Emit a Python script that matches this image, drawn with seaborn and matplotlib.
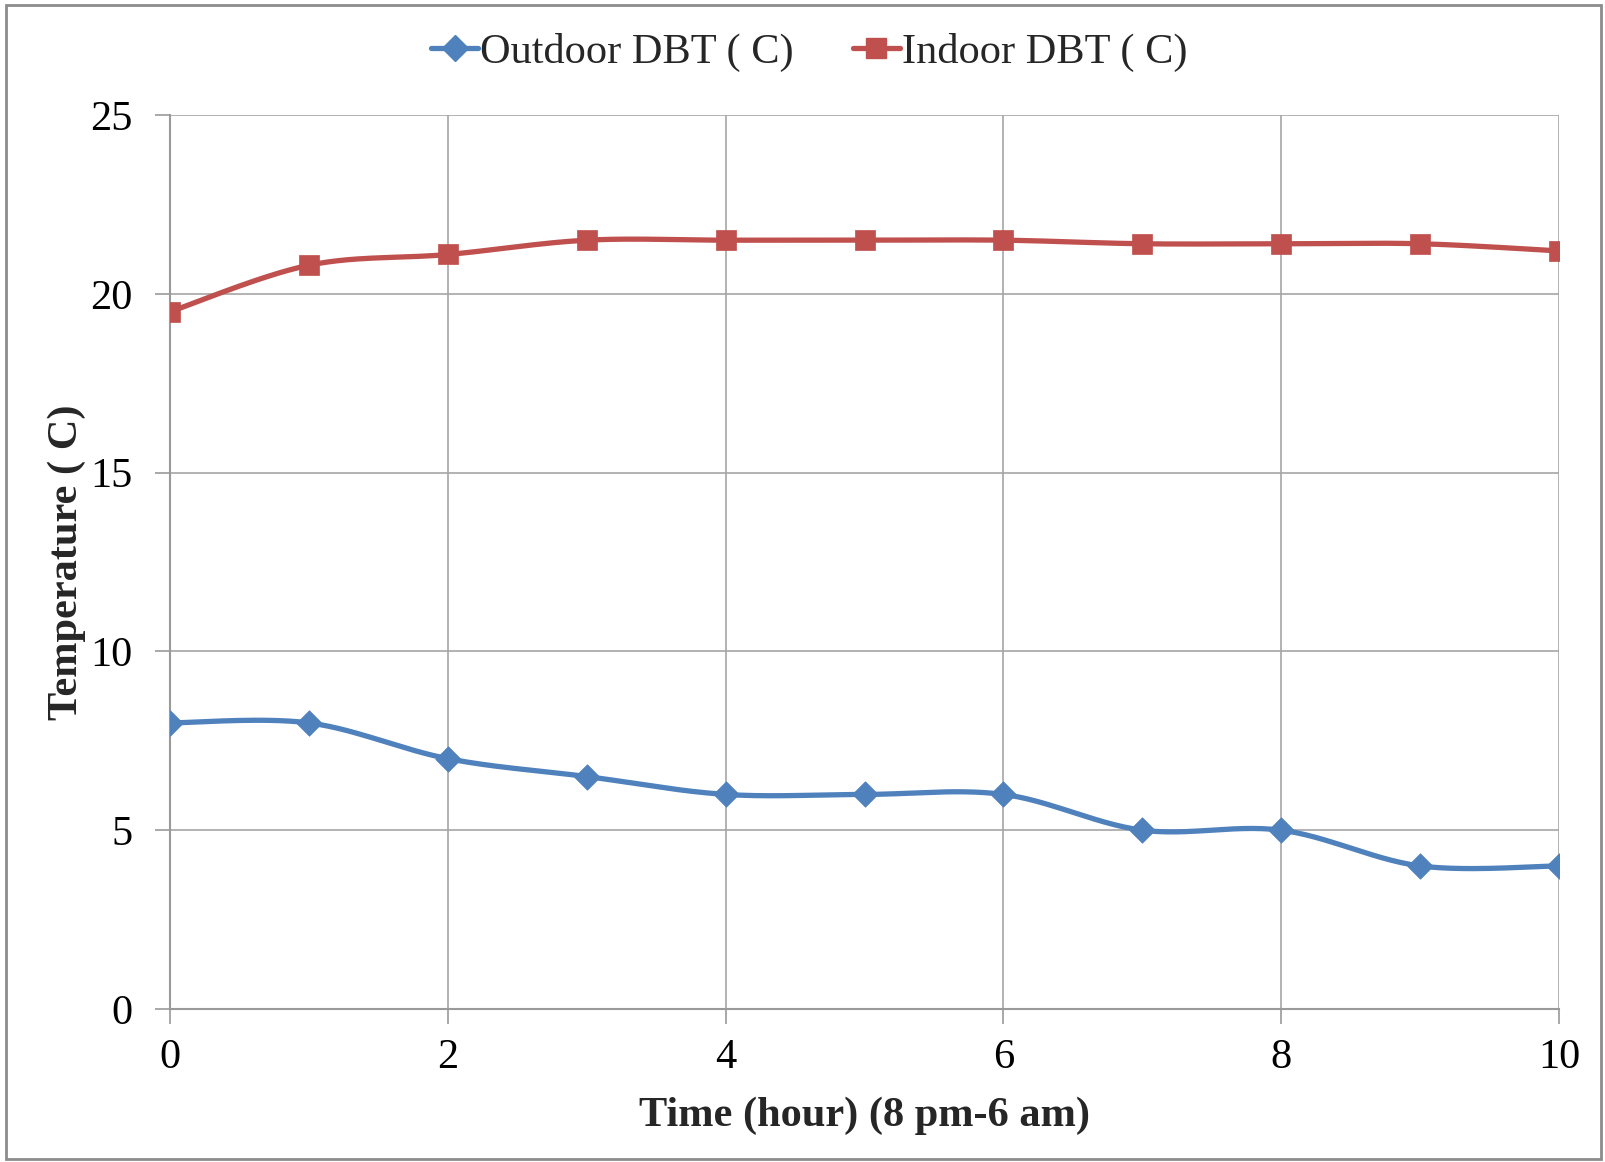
import numpy as np
import pandas as pd
import matplotlib
matplotlib.use("Agg")
import matplotlib.pyplot as plt
from matplotlib.lines import Line2D
from matplotlib.patches import Rectangle
import seaborn as sns

hours = [0, 1, 2, 3, 4, 5, 6, 7, 8, 9, 10]
outdoor = [8, 8, 7, 6.5, 6, 6, 6, 5, 5, 4, 4]
indoor = [19.5, 20.8, 21.1, 21.5, 21.5, 21.5, 21.5, 21.4, 21.4, 21.4, 21.2]
series_names = ["Outdoor DBT ( C)", "Indoor DBT ( C)"]
yticks = [0, 5, 10, 15, 20, 25]
xticks = [0, 2, 4, 6, 8, 10]

BLUE = "#4F81BD"
RED = "#C0504D"
FS = 30.5

sns.set_theme(style="white")
plt.rcParams["font.family"] = ["Liberation Serif", "DejaVu Serif"]


def smooth(x, y, n=30):
    # Excel-like smoothed line (Catmull-Rom Bezier) through the data points
    x = np.asarray(x, float)
    y = np.asarray(y, float)
    px = np.concatenate([[x[0]], x, [x[-1]]])
    py = np.concatenate([[y[0]], y, [y[-1]]])
    xs, ys = [], []
    for i in range(1, len(px) - 2):
        p0 = np.array([px[i - 1], py[i - 1]])
        p1 = np.array([px[i], py[i]])
        p2 = np.array([px[i + 1], py[i + 1]])
        p3 = np.array([px[i + 2], py[i + 2]])
        c1 = p1 + (p2 - p0) / 6
        c2 = p2 - (p3 - p1) / 6
        t = np.linspace(0, 1, n)[:, None]
        pts = ((1 - t) ** 3) * p1 + 3 * ((1 - t) ** 2) * t * c1 + 3 * (1 - t) * t ** 2 * c2 + t ** 3 * p2
        xs.extend(pts[:, 0])
        ys.extend(pts[:, 1])
    return np.array(xs), np.array(ys)


fig = plt.figure(figsize=(16.06, 11.62), dpi=100)
ax = fig.add_axes([0.1059, 0.1317, 0.8648, 0.7693])

LW = 3.8
styles = [(outdoor, BLUE, "D", 13), (indoor, RED, "s", 14)]
for vals, color, marker, ms in styles:
    sx, sy = smooth(hours, vals)
    ax.plot(sx, sy, color=color, lw=LW, zorder=3, solid_capstyle="round")
    sns.scatterplot(x=hours, y=vals, ax=ax, color=color, marker=marker, s=ms ** 2,
                    edgecolor=color, linewidth=0.5, zorder=4, legend=False)

ax.set_xlim(0, 10)
ax.set_ylim(0, 25)
ax.set_xticks(xticks)
ax.set_yticks(yticks)
ax.grid(True, color="#A6A6A6", lw=1.2)
for s in ["top", "right"]:
    ax.spines[s].set_visible(False)
for s in ["left", "bottom"]:
    ax.spines[s].set_color("#9A9A9A")
    ax.spines[s].set_linewidth(1.5)
ax.tick_params(axis="both", which="major", direction="out", length=11, width=1.2,
               color="#9A9A9A", labelsize=FS, colors="black", left=True, bottom=True)
ax.tick_params(axis="x", pad=10)
ax.tick_params(axis="y", pad=16)
for lbl in ax.get_xticklabels() + ax.get_yticklabels():
    lbl.set_color("black")

ax.set_xlabel("Time (hour) (8 pm-6 am)", fontsize=FS, fontweight="bold", labelpad=14)
ax.set_ylabel("Temperature ( C)", fontsize=FS, fontweight="bold", labelpad=3)

handles = [
    Line2D([], [], color=BLUE, lw=LW, marker="D", markersize=13),
    Line2D([], [], color=RED, lw=LW, marker="s", markersize=14),
]
fig.legend(handles, series_names, loc="center", bbox_to_anchor=(0.504, 0.955), ncol=2,
           frameon=False, fontsize=FS, handlelength=1.1, handletextpad=0.05,
           columnspacing=1.4)

fig.patches.append(Rectangle((0.004, 0.003), 0.993, 0.993, transform=fig.transFigure,
                             fill=False, edgecolor="#8C8C8C", lw=2))

fig.savefig("out.png", dpi=100)
